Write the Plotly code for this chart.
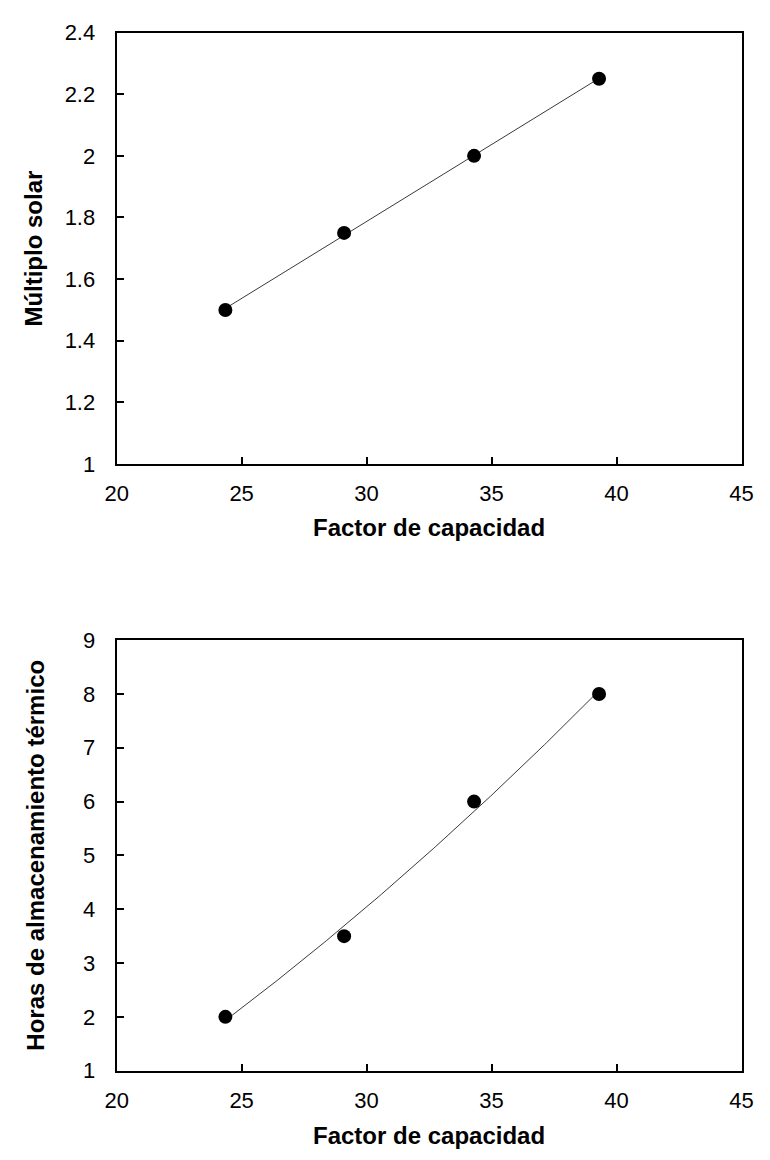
import numpy as np
import plotly.graph_objects as go
from plotly.subplots import make_subplots

# Capacity factor for each configuration
factor_capacidad = [24.35, 29.1, 34.3, 39.3]
# Solar multiple for each configuration
multiplo_solar = [1.5, 1.75, 2.0, 2.25]
# Thermal storage hours for each configuration
horas_almacenamiento = [2.0, 3.5, 6.0, 8.0]

x_ticks = [20, 25, 30, 35, 40, 45]
y_ticks_top = [1, 1.2, 1.4, 1.6, 1.8, 2, 2.2, 2.4]
y_ticks_bottom = [1, 2, 3, 4, 5, 6, 7, 8, 9]

FONT = "Liberation Sans, Arial, sans-serif"
W, H = 770, 1160

# Plot-area boxes in pixels (left, right, top, bottom)
X_LEFT, X_RIGHT = 108, 753
TOP_BOX = (21, 462)
BOT_BOX = (642, 1082)

fig = make_subplots(rows=2, cols=1)

# Trendlines fitted to the data (linear for the solar multiple, quadratic for storage hours)
xs = np.linspace(min(factor_capacidad), max(factor_capacidad), 200)
fit_top = np.poly1d(np.polyfit(factor_capacidad, multiplo_solar, 1))
fit_bot = np.poly1d(np.polyfit(factor_capacidad, horas_almacenamiento, 2))

fig.add_trace(go.Scatter(x=xs, y=fit_top(xs), mode="lines",
                         line=dict(color="#3a3a3a", width=1), hoverinfo="skip"), row=1, col=1)
fig.add_trace(go.Scatter(x=factor_capacidad, y=multiplo_solar, mode="markers",
                         marker=dict(color="black", size=14)), row=1, col=1)
fig.add_trace(go.Scatter(x=xs, y=fit_bot(xs), mode="lines",
                         line=dict(color="#3a3a3a", width=1), hoverinfo="skip"), row=2, col=1)
fig.add_trace(go.Scatter(x=factor_capacidad, y=horas_almacenamiento, mode="markers",
                         marker=dict(color="black", size=14)), row=2, col=1)

axis_common = dict(showline=True, linecolor="black", linewidth=2, mirror=True,
                   ticks="inside", ticklen=7, tickwidth=2, tickcolor="black",
                   showgrid=False, zeroline=False,
                   tickfont=dict(family=FONT, size=22, color="black"))

fig.update_xaxes(range=[20, 45], tickvals=x_ticks, ticklabelstandoff=9, **axis_common)
fig.update_yaxes(ticklabelstandoff=15, **axis_common)
fig.update_yaxes(range=[1, 2.4], tickvals=y_ticks_top,
                 ticktext=[f"{v:g}" for v in y_ticks_top], row=1, col=1)
fig.update_yaxes(range=[1, 9], tickvals=y_ticks_bottom, row=2, col=1)


def px_x(p):
    return p / W


def px_y(p):
    return 1 - p / H


title_font = dict(family=FONT, size=24, color="black")
x_center = (X_LEFT + X_RIGHT) / 2

annotations = [
    dict(text="<b>Factor de capacidad</b>", x=px_x(x_center), y=px_y(TOP_BOX[1] + 65)),
    dict(text="<b>Factor de capacidad</b>", x=px_x(x_center), y=px_y(BOT_BOX[1] + 66)),
    dict(text="<b>Múltiplo solar</b>", x=px_x(22), y=px_y(sum(TOP_BOX) / 2), textangle=-90),
    dict(text="<b>Horas de almacenamiento térmico</b>", x=px_x(24),
         y=px_y(sum(BOT_BOX) / 2), textangle=-90),
]
for a in annotations:
    a.update(xref="paper", yref="paper", showarrow=False, font=title_font,
             xanchor="center", yanchor="middle")

fig.update_layout(
    width=W, height=H,
    margin=dict(l=0, r=0, t=0, b=0),
    paper_bgcolor="white", plot_bgcolor="white",
    showlegend=False,
    annotations=annotations,
    xaxis=dict(domain=[px_x(X_LEFT), px_x(X_RIGHT)]),
    xaxis2=dict(domain=[px_x(X_LEFT), px_x(X_RIGHT)]),
    yaxis=dict(domain=[px_y(TOP_BOX[1]), px_y(TOP_BOX[0])]),
    yaxis2=dict(domain=[px_y(BOT_BOX[1]), px_y(BOT_BOX[0])]),
)

fig.write_html("out.html")
